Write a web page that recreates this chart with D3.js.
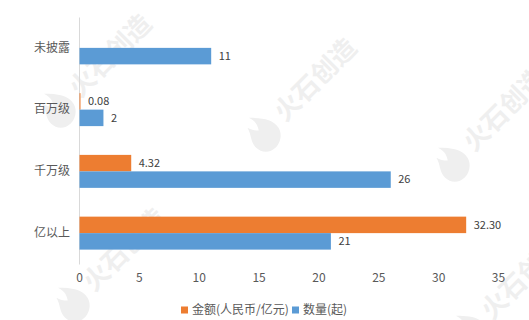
<!DOCTYPE html>
<html>
<head>
<meta charset="utf-8">
<script src="https://cdn.jsdelivr.net/npm/d3@7"></script>
<style>
  body { margin: 0; background: #fff; }
  text { font-family: "Noto Sans CJK SC", "Liberation Sans", sans-serif; }
</style>
</head>
<body>
<div class="chart"></div>
<script>
// DATA ------------------------------
const categories = ['未披露', '百万级', '千万级', '亿以上'];
const amounts = [null, 0.08, 4.32, 32.30];   // 金额(人民币/亿元)
const counts = [11, 2, 26, 21];             // 数量(起)
const xTicks = [0, 5, 10, 15, 20, 25, 30, 35];
const seriesNames = ['金额(人民币/亿元)', '数量(起)'];
const seriesColors = ['#ED7D31', '#5B9BD5'];

// watermark anchor points (flame position)
const marks = [[58, 108], [263, 132], [452, 162], [72, 302], [470, 330]];

// CHART INIT ------------------------------
const W = 529, H = 320;
const plot = { left: 79, right: 498, top: 17, bottom: 264 };

const svg = d3.select('.chart')
    .append('svg')
    .attr('width', W)
    .attr('height', H);

// watermarks
const wm = svg.append('g').attr('fill', '#efefef');
marks.forEach(([x, y]) => {
    const g = wm.append('g').attr('transform', `translate(${x},${y}) rotate(-45)`);
    g.append('path')
        .attr('d', 'M0,-20 C10,-10 16,-2 14,8 C12,16 4,20 -2,20 C-10,20 -16,14 -16,6 C-16,-2 -10,-6 -8,-14 C-6,-8 -4,-6 -2,-4 C2,-10 2,-14 0,-20 Z');
    g.append('text')
        .attr('x', 22)
        .attr('y', 9)
        .attr('font-size', 26)
        .attr('font-weight', 'bold')
        .text('火石创造');
});

const xScale = d3.scaleLinear()
    .domain([0, 35])
    .range([plot.left, plot.right]);

const yScale = d3.scaleBand()
    .domain(categories)
    .range([plot.top, plot.bottom])
    .paddingInner(0.466)
    .paddingOuter(0.233);

const inner = d3.scaleBand()
    .domain([0, 1])
    .range([0, yScale.bandwidth()]);

// x axis labels
const xAxis = svg.append('g')
    .attr('transform', `translate(0,${plot.bottom + 9})`)
    .call(d3.axisBottom(xScale).tickValues(xTicks).tickSize(0).tickPadding(0));
xAxis.select('.domain').remove();
xAxis.selectAll('text')
    .attr('font-size', 12)
    .attr('fill', '#595959')
    .attr('font-family', '"Liberation Sans", sans-serif');

// y axis
const yAxis = svg.append('g')
    .attr('transform', `translate(${plot.left},0)`)
    .call(d3.axisLeft(yScale).tickSize(0).tickPadding(9).tickSizeOuter(0));
yAxis.select('.domain').attr('stroke', '#d9d9d9');
yAxis.selectAll('text')
    .attr('font-size', 12)
    .attr('fill', '#595959');

// bars
const series = [amounts, counts];
const fmt = [d => d.toFixed(2), d => String(d)];

series.forEach((vals, s) => {
    const rows = categories.map((c, i) => ({ c, v: vals[i] })).filter(d => d.v != null);
    const g = svg.append('g');
    g.selectAll('rect')
        .data(rows)
        .enter()
        .append('rect')
        .attr('x', xScale(0) + 0.5)
        .attr('y', d => yScale(d.c) + inner(s))
        .attr('width', d => Math.max(1, xScale(d.v) - xScale(0)))
        .attr('height', inner.bandwidth())
        .attr('fill', seriesColors[s]);
    g.selectAll('text')
        .data(rows)
        .enter()
        .append('text')
        .attr('x', d => xScale(d.v) + 8)
        .attr('y', d => yScale(d.c) + inner(s) + inner.bandwidth() / 2)
        .attr('dy', '0.35em')
        .attr('font-size', 11)
        .attr('font-family', '"Liberation Sans", sans-serif')
        .attr('fill', '#404040')
        .text(d => fmt[s](d.v));
});

// legend
const legend = svg.append('g').attr('transform', 'translate(181,310)');
const legendX = [0, 111];
seriesNames.forEach((name, i) => {
    const item = legend.append('g').attr('transform', `translate(${legendX[i]},0)`);
    item.append('rect')
        .attr('x', 0)
        .attr('y', -3.5)
        .attr('width', 7)
        .attr('height', 7)
        .attr('fill', seriesColors[i]);
    item.append('text')
        .attr('x', 11)
        .attr('dy', '0.35em')
        .attr('font-size', 12)
        .attr('fill', '#595959')
        .text(name);
});
</script>
</body>
</html>
